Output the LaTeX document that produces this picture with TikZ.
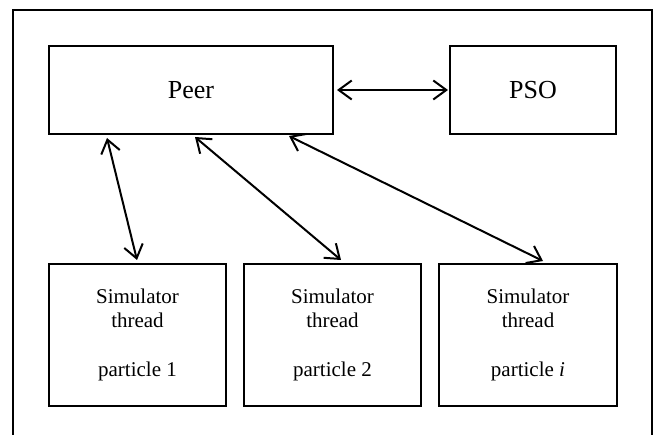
\documentclass[tikz,border=0pt]{standalone}
\usepackage{fontspec}
\setmainfont{Liberation Serif}
\usetikzlibrary{arrows.meta}
\begin{document}
\begin{tikzpicture}[x=1pt,y=1pt,
  box/.style={draw,line width=2pt,rectangle,inner sep=0pt,align=center},
  bigbox/.style={box,font=\fontsize{26}{30}\selectfont},
  simbox/.style={box,font=\fontsize{21}{24.5}\selectfont,minimum height=142pt},
  tip/.style={Straight Barb[length=13pt,width=19pt]},
  arr/.style={line width=2pt,{Straight Barb[length=13pt,width=19pt]}-{Straight Barb[length=13pt,width=19pt]}}]
\useasboundingbox (0,0) rectangle (658,-435);
\draw[line width=2pt] (13,-440) -- (13,-10) -- (652,-10) -- (652,-440);
\node[bigbox,minimum width=284pt,minimum height=88pt] (peer) at (191,-90) {Peer};
\node[bigbox,minimum width=166pt,minimum height=88pt] (pso) at (533,-90) {PSO};
\node[simbox,minimum width=177pt] (s1) at (137.5,-335) {Simulator\\thread\\[24.5pt]particle 1};
\node[simbox,minimum width=177pt] (s2) at (332.5,-335) {Simulator\\thread\\[24.5pt]particle 2};
\node[simbox,minimum width=178pt] (s3) at (528,-335) {Simulator\\thread\\[24.5pt]particle \textit{i}};
\draw[arr] ([xshift=3pt]peer.east) -- ([xshift=-1pt]pso.west);
\draw[arr] ([xshift=59pt,yshift=-3pt]peer.south west) -- ([xshift=89pt,yshift=3pt]s1.north west);
\draw[arr] ([xshift=147pt,yshift=-2pt]peer.south west) -- ([xshift=98pt,yshift=3pt]s2.north west);
\draw[arr] ([xshift=241pt,yshift=-1pt]peer.south west) -- ([xshift=105pt,yshift=2pt]s3.north west);
\end{tikzpicture}
\end{document}
